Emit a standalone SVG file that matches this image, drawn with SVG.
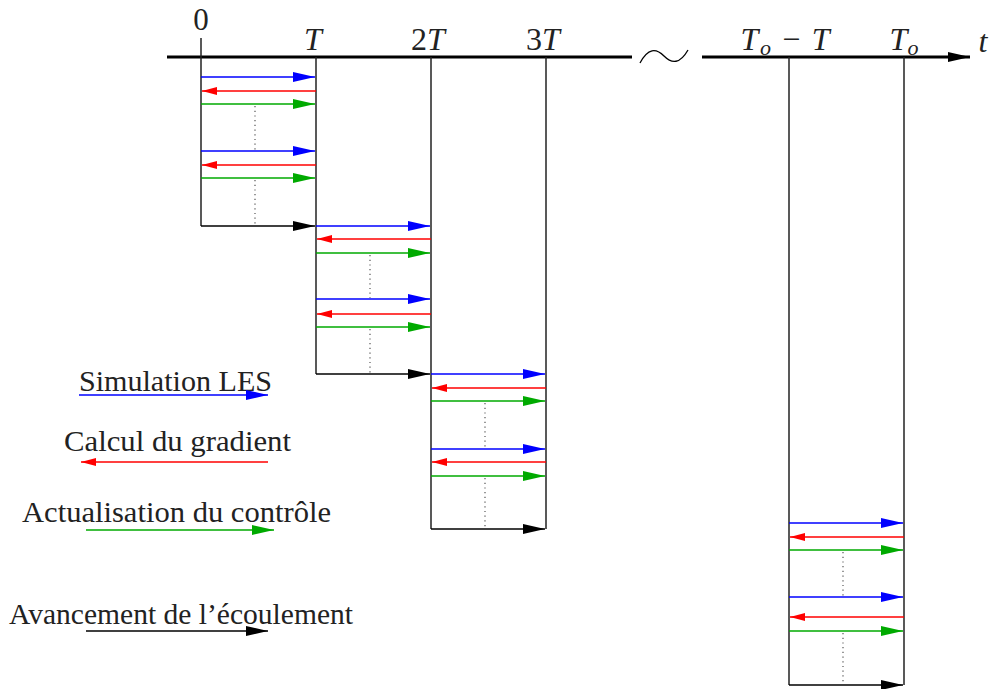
<svg xmlns="http://www.w3.org/2000/svg" width="990" height="689" viewBox="0 0 990 689">
<style>
.t{font-family:"Liberation Serif",serif;fill:#222}
.m{font-family:"Liberation Serif",serif;font-style:italic;fill:#222;font-size:32px}
.v{stroke:#222;stroke-width:1.5;fill:none}
.b{stroke:#0000ff;stroke-width:1.3;marker-end:url(#hb)}
.r{stroke:#ff0000;stroke-width:1.3;marker-end:url(#hr)}
.g{stroke:#00aa00;stroke-width:1.3;marker-end:url(#hg)}
.k{stroke:#000;stroke-width:1.3;marker-end:url(#hk)}
.d{stroke:#555;stroke-width:1.2;stroke-dasharray:1.2 3.5}
</style>
<defs>
<marker id="hb" markerUnits="userSpaceOnUse" markerWidth="22" markerHeight="10" refX="22" refY="5" orient="auto"><path d="M0,0 L22,5 L0,10 z" fill="#0000ff"/></marker>
<marker id="hg" markerUnits="userSpaceOnUse" markerWidth="22" markerHeight="10" refX="22" refY="5" orient="auto"><path d="M0,0 L22,5 L0,10 z" fill="#00aa00"/></marker>
<marker id="hk" markerUnits="userSpaceOnUse" markerWidth="22" markerHeight="10" refX="22" refY="5" orient="auto"><path d="M0,0 L22,5 L0,10 z" fill="#000"/></marker>
<marker id="hr" markerUnits="userSpaceOnUse" markerWidth="15" markerHeight="8" refX="15" refY="4" orient="auto"><path d="M0,0 L15,4 L0,8 z" fill="#ff0000"/></marker>
<marker id="ha" markerUnits="userSpaceOnUse" markerWidth="22" markerHeight="10" refX="22" refY="5" orient="auto"><path d="M0,0 L22,5 L0,10 z" fill="#000"/></marker>
</defs>
<rect width="990" height="689" fill="#fff"/>
<g id="axis">
<line x1="167" y1="57" x2="632" y2="57" stroke="#000" stroke-width="3"/>
<line x1="702" y1="57" x2="970" y2="57" stroke="#000" stroke-width="3" marker-end="url(#ha)"/>
<path d="M640,63 C648,48 656,48 664,56 C672,64 680,64 688,50" fill="none" stroke="#000" stroke-width="1.3"/>
<text class="t" x="201" y="30" font-size="31" text-anchor="middle">0</text>
<text class="m" x="313" y="50" text-anchor="middle">T</text>
<text class="m" x="428" y="50" text-anchor="middle"><tspan font-style="normal">2</tspan>T</text>
<text class="m" x="543" y="50" text-anchor="middle"><tspan font-style="normal">3</tspan>T</text>
<text class="m" x="785" y="50" text-anchor="middle" textLength="89" lengthAdjust="spacing">T<tspan font-size="22" dy="5">o</tspan><tspan dy="-5" font-style="normal"> − </tspan>T</text>
<text class="m" x="904" y="50" text-anchor="middle">T<tspan font-size="22" dy="5">o</tspan></text>
<text class="m" x="983" y="52" text-anchor="middle">t</text>
</g>
<g id="verticals">
<line class="v" x1="201" y1="38" x2="201" y2="226"/>
<line class="v" x1="316" y1="57" x2="316" y2="374"/>
<line class="v" x1="431" y1="57" x2="431" y2="529"/>
<line class="v" x1="546" y1="57" x2="546" y2="529"/>
<line class="v" x1="789" y1="57" x2="789" y2="685"/>
<line class="v" x1="904" y1="57" x2="904" y2="685"/>
</g>
<g id="connectors">
<g id="block1">
<line class="b" x1="201" y1="77" x2="315" y2="77"/>
<line class="r" x1="316" y1="91" x2="202" y2="91"/>
<line class="g" x1="201" y1="104" x2="315" y2="104"/>
<line class="d" x1="255" y1="106" x2="255" y2="150"/>
<line class="b" x1="201" y1="151" x2="315" y2="151"/>
<line class="r" x1="316" y1="165" x2="202" y2="165"/>
<line class="g" x1="201" y1="178" x2="315" y2="178"/>
<line class="d" x1="255" y1="180" x2="255" y2="225"/>
<line class="k" x1="201" y1="226" x2="315" y2="226"/>
</g>
<g id="block2">
<line class="b" x1="316" y1="226" x2="430" y2="226"/>
<line class="r" x1="431" y1="239" x2="317" y2="239"/>
<line class="g" x1="316" y1="253" x2="430" y2="253"/>
<line class="d" x1="370" y1="255" x2="370" y2="298"/>
<line class="b" x1="316" y1="299" x2="430" y2="299"/>
<line class="r" x1="431" y1="314" x2="317" y2="314"/>
<line class="g" x1="316" y1="327" x2="430" y2="327"/>
<line class="d" x1="370" y1="329" x2="370" y2="373"/>
<line class="k" x1="316" y1="374" x2="430" y2="374"/>
</g>
<g id="block3">
<line class="b" x1="431" y1="374" x2="545" y2="374"/>
<line class="r" x1="546" y1="388" x2="432" y2="388"/>
<line class="g" x1="431" y1="401" x2="545" y2="401"/>
<line class="d" x1="485" y1="403" x2="485" y2="448"/>
<line class="b" x1="431" y1="449" x2="545" y2="449"/>
<line class="r" x1="546" y1="462" x2="432" y2="462"/>
<line class="g" x1="431" y1="476" x2="545" y2="476"/>
<line class="d" x1="485" y1="478" x2="485" y2="528"/>
<line class="k" x1="431" y1="529" x2="545" y2="529"/>
</g>
<g id="block4">
<line class="b" x1="789" y1="523" x2="903" y2="523"/>
<line class="r" x1="904" y1="537" x2="790" y2="537"/>
<line class="g" x1="789" y1="550" x2="903" y2="550"/>
<line class="d" x1="843" y1="552" x2="843" y2="596"/>
<line class="b" x1="789" y1="597" x2="903" y2="597"/>
<line class="r" x1="904" y1="617" x2="790" y2="617"/>
<line class="g" x1="789" y1="631" x2="903" y2="631"/>
<line class="d" x1="843" y1="633" x2="843" y2="684"/>
<line class="k" x1="789" y1="685" x2="903" y2="685"/>
</g>
</g>
<g id="legend">
<text class="t" x="79" y="391" font-size="29" textLength="193" lengthAdjust="spacingAndGlyphs">Simulation LES</text>
<line class="b" x1="79" y1="395" x2="268" y2="395"/>
<text class="t" x="64" y="451" font-size="29" textLength="227" lengthAdjust="spacingAndGlyphs">Calcul du gradient</text>
<line class="r" x1="268" y1="462" x2="81" y2="462"/>
<text class="t" x="22" y="522" font-size="29" textLength="309" lengthAdjust="spacingAndGlyphs">Actualisation du contrôle</text>
<line class="g" x1="86" y1="530" x2="274" y2="530"/>
<text class="t" x="9" y="624" font-size="29" textLength="344" lengthAdjust="spacingAndGlyphs">Avancement de l’écoulement</text>
<line class="k" x1="86" y1="631" x2="268" y2="631"/>
</g>
</svg>
